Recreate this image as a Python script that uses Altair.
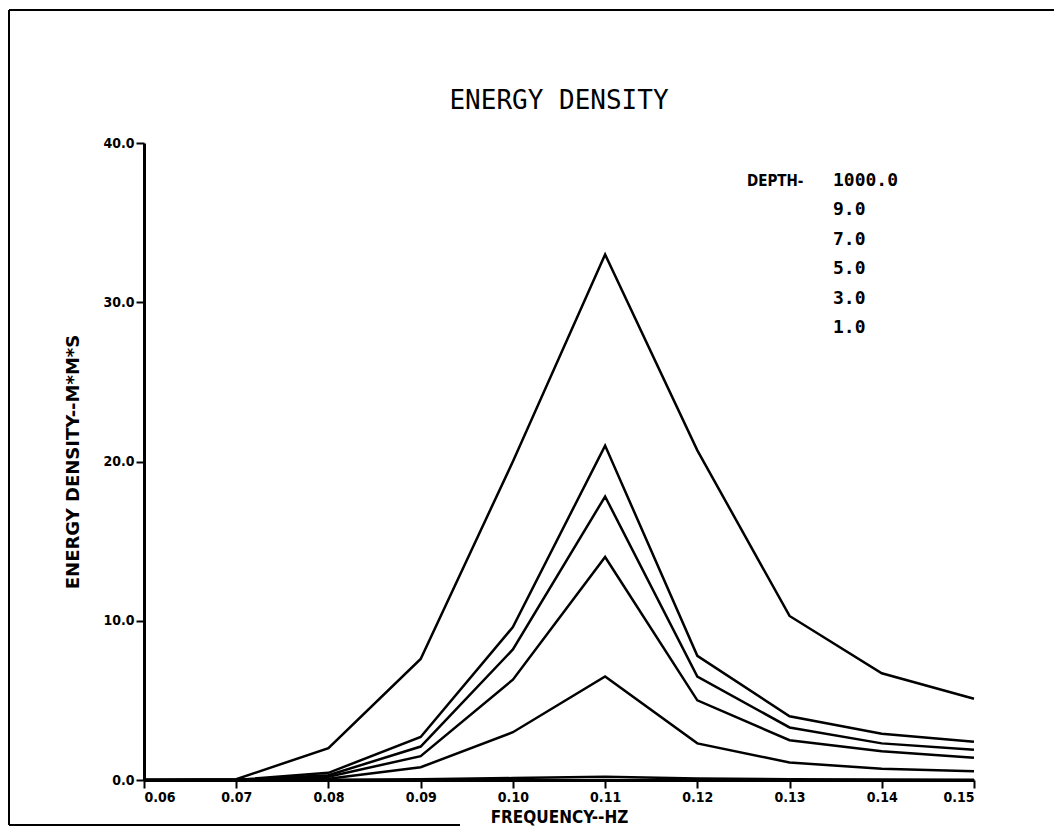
import altair as alt
import pandas as pd

# ---- data ----
freq = [0.06, 0.07, 0.08, 0.09, 0.10, 0.11, 0.12, 0.13, 0.14, 0.15]
depths = ["1000.0", "9.0", "7.0", "5.0", "3.0", "1.0"]
d1000 = [0.0, 0.05, 2.0, 7.6, 20.0, 33.0, 20.7, 10.3, 6.7, 5.1]
d9 = [0.0, 0.0, 0.45, 2.7, 9.6, 21.0, 7.8, 4.0, 2.9, 2.4]
d7 = [0.0, 0.0, 0.3, 2.1, 8.2, 17.8, 6.5, 3.3, 2.3, 1.9]
d5 = [0.0, 0.0, 0.2, 1.5, 6.3, 14.0, 5.0, 2.5, 1.8, 1.4]
d3 = [0.0, 0.0, 0.08, 0.8, 3.0, 6.5, 2.3, 1.1, 0.7, 0.55]
d1 = [0.0, 0.0, 0.02, 0.05, 0.12, 0.2, 0.1, 0.05, 0.03, 0.02]
x_ticks = [0.06, 0.07, 0.08, 0.09, 0.10, 0.11, 0.12, 0.13, 0.14, 0.15]
y_ticks = [0, 10, 20, 30, 40]
title_text = "ENERGY DENSITY"
x_title = "FREQUENCY--HZ"
y_title = "ENERGY DENSITY--M*M*S"
legend_head = "DEPTH-"

series = [d1000, d9, d7, d5, d3, d1]
rows = []
for name, vals in zip(depths, series):
    for f, v in zip(freq, vals):
        rows.append({"freq": f, "energy": v, "depth": name})
df = pd.DataFrame(rows)

legend_df = pd.DataFrame({"label": depths, "row": list(range(len(depths)))})
one = pd.DataFrame({"a": [0]})

lines = alt.Chart(df).mark_line(color="black", strokeWidth=2.5).encode(
    x=alt.X("freq:Q",
            scale=alt.Scale(domain=[0.06, 0.15], nice=False, zero=False),
            axis=alt.Axis(values=x_ticks, format=".2f", title=x_title,
                          tickSize=8, tickWidth=2, titlePadding=5,
                          labelFont="DejaVu Sans Condensed", labelFontSize=14,
                          labelFontWeight="bold", labelColor="black", labelPadding=2,
                          titleFont="DejaVu Sans Condensed", titleFontSize=17,
                          titleFontWeight="bold", titleColor="black",
                          domainWidth=3, domainColor="black", tickColor="black")),
    y=alt.Y("energy:Q",
            scale=alt.Scale(domain=[0, 40], nice=False),
            axis=alt.Axis(values=y_ticks, format=".1f", title=y_title,
                          tickSize=8, tickWidth=2, titlePadding=20,
                          labelFont="DejaVu Sans Condensed", labelFontSize=14,
                          labelFontWeight="bold", labelColor="black", labelPadding=2,
                          titleFont="DejaVu Sans", titleFontSize=18,
                          titleFontWeight="bold", titleColor="black",
                          domainWidth=3, domainColor="black", tickColor="black")),
    detail="depth:N",
)

title_mark = alt.Chart(one).mark_text(
    align="center", baseline="middle", font="DejaVu Sans Mono",
    fontSize=26, color="black"
).encode(x=alt.value(415), y=alt.value(-42), text=alt.value(title_text))

legend_vals = alt.Chart(legend_df).mark_text(
    align="left", baseline="middle", font="DejaVu Sans Mono",
    fontWeight="bold", fontSize=18, color="black"
).encode(
    x=alt.value(689),
    y=alt.Y("row:Q", scale=alt.Scale(domain=[0, 5], range=[38, 185]), axis=None),
    text="label:N",
)

legend_title = alt.Chart(one).mark_text(
    align="left", baseline="middle", font="DejaVu Sans Condensed",
    fontWeight="bold", fontSize=15, color="black"
).encode(x=alt.value(603), y=alt.value(38), text=alt.value(legend_head))

frame_left = alt.Chart(one).mark_rule(color="black", strokeWidth=2).encode(
    x=alt.value(-135), y=alt.value(-133), y2=alt.value(682))
frame_top = alt.Chart(one).mark_rule(color="black", strokeWidth=2).encode(
    x=alt.value(-135), x2=alt.value(910), y=alt.value(-133))
frame_bottom = alt.Chart(one).mark_rule(color="black", strokeWidth=2).encode(
    x=alt.value(-135), x2=alt.value(316), y=alt.value(682))

chart = alt.layer(
    lines, title_mark, legend_vals, legend_title, frame_left, frame_top, frame_bottom
).resolve_scale(y="independent").properties(
    width=830, height=637,
    autosize=alt.AutoSizeParams(type="none"),
    padding={"left": 136, "top": 135, "right": 80, "bottom": 46},
    background="white",
).configure_view(stroke=None).configure_axis(grid=False)

chart.save("out.html", embed_options={"renderer": "svg", "actions": False})
